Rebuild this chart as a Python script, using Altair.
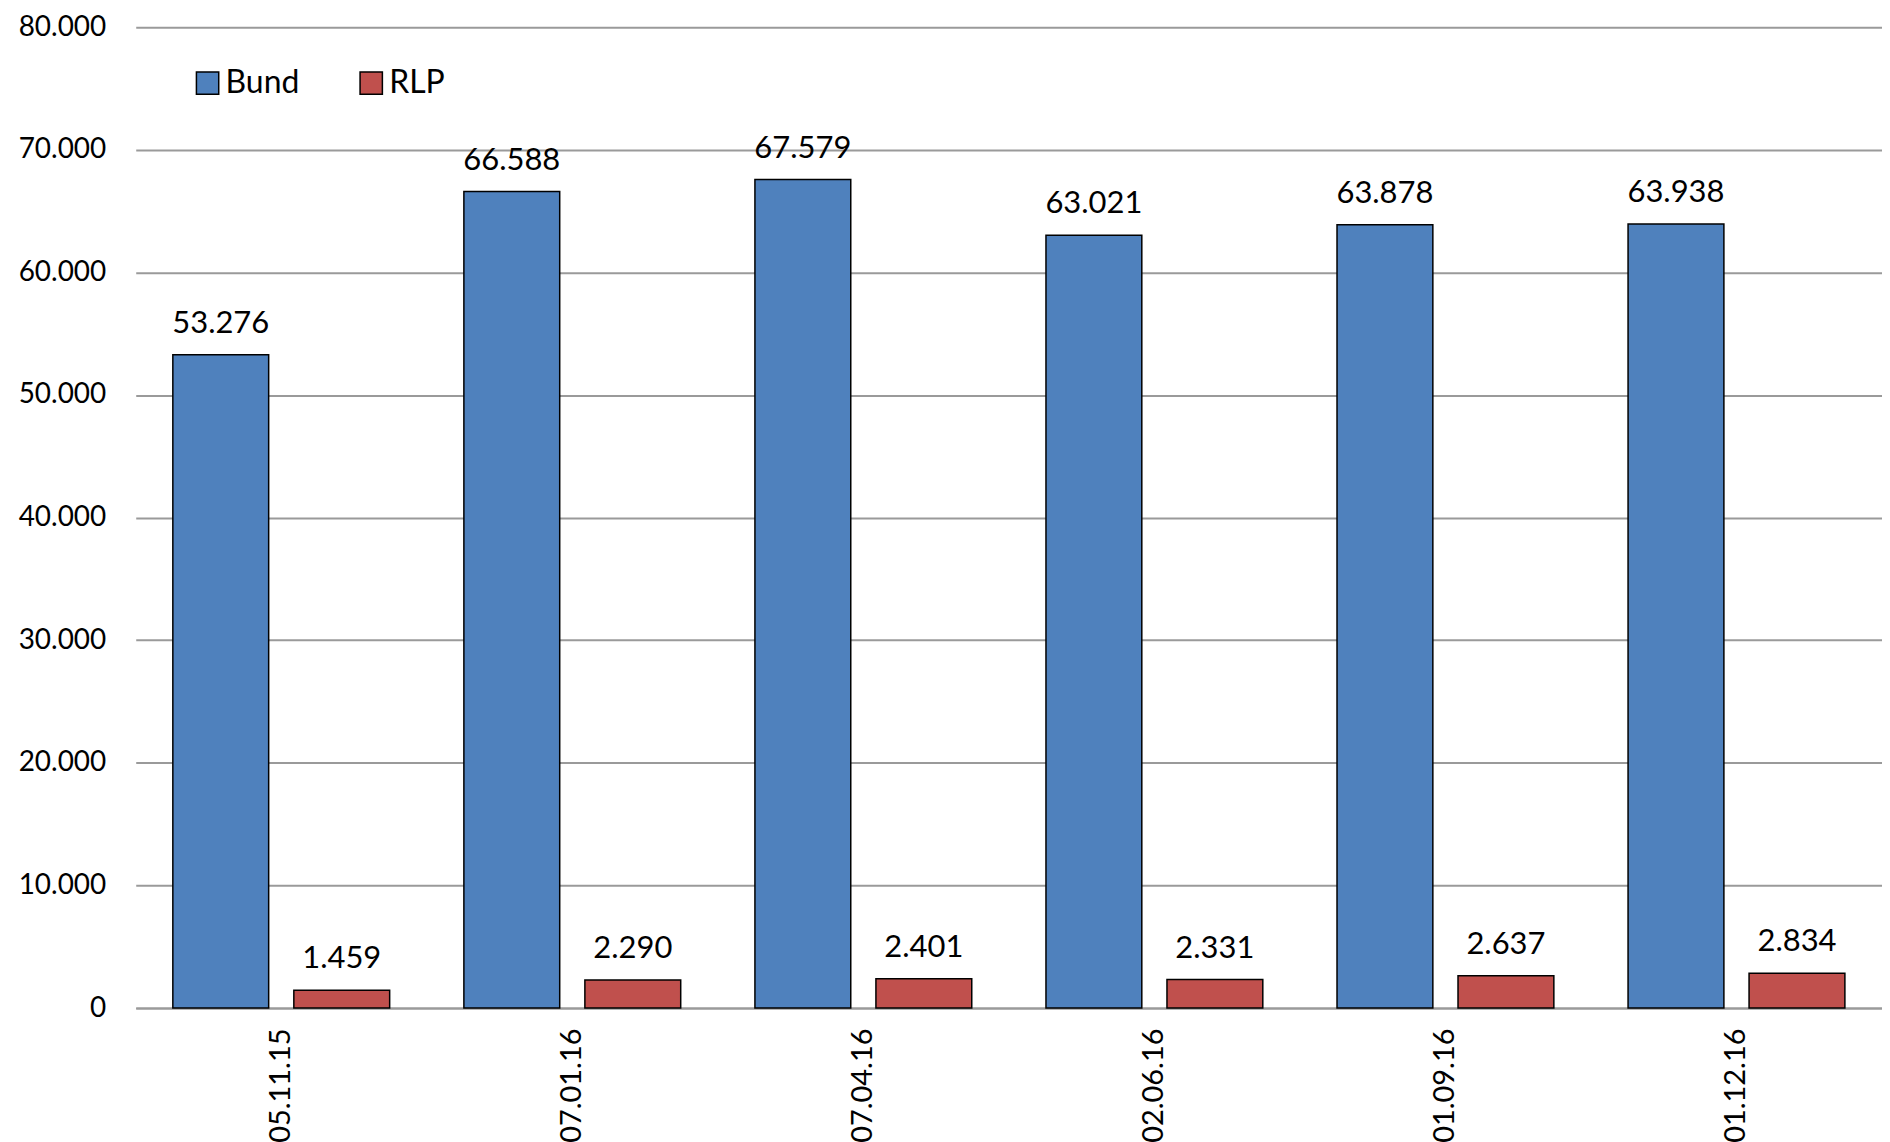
import altair as alt
import pandas as pd

dates = ["05.11.15", "07.01.16", "07.04.16", "02.06.16", "01.09.16", "01.12.16"]
bund = [53276, 66588, 67579, 63021, 63878, 63938]
rlp = [1459, 2290, 2401, 2331, 2637, 2834]
series = ["Bund", "RLP"]
colors = ["#4F81BD", "#C0504D"]

rows = []
for d, b, r in zip(dates, bund, rlp):
    rows.append({"Datum": d, "Reihe": "Bund", "Wert": b})
    rows.append({"Datum": d, "Reihe": "RLP", "Wert": r})
df = pd.DataFrame(rows)

FONT = "Lato"

x_enc = alt.X(
    "Datum:N",
    sort=dates,
    title=None,
    scale=alt.Scale(paddingInner=0.255, paddingOuter=0.1275),
    axis=alt.Axis(
        labelAngle=270,
        labelFontSize=29,
        labelFont=FONT,
        labelColor="black",
        labelPadding=20,
        ticks=False,
        domain=True,
        domainColor="#9a9a9a",
        domainWidth=2,
        grid=False,
    ),
)
xoff = alt.XOffset("Reihe:N", sort=series, scale=alt.Scale(paddingInner=0.208, paddingOuter=0))

bars = alt.Chart(df).mark_bar(stroke="black", strokeWidth=1.5).encode(
    x=x_enc,
    xOffset=xoff,
    y=alt.Y(
        "Wert:Q",
        title=None,
        scale=alt.Scale(domain=[0, 80000], nice=False),
        axis=alt.Axis(
            values=[0, 10000, 20000, 30000, 40000, 50000, 60000, 70000, 80000],
            labelExpr="replace(format(datum.value, ','), ',', '.')",
            labelFontSize=28,
            labelFont=FONT,
            labelColor="black",
            labelPadding=30,
            ticks=False,
            domain=False,
            grid=True,
            gridColor="#9a9a9a",
            gridWidth=2,
        ),
    ),
    color=alt.Color(
        "Reihe:N",
        sort=series,
        scale=alt.Scale(domain=series, range=colors),
        legend=alt.Legend(
            title=None,
            orient="none",
            legendX=56,
            legendY=40,
            direction="horizontal",
            symbolType="square",
            symbolSize=500,
            symbolStrokeColor="black",
            symbolStrokeWidth=1.5,
            symbolOpacity=1,
            labelFontSize=32,
            labelFont=FONT,
            labelColor="black",
            labelOffset=2,
            columnPadding=56,
        ),
    ),
)

labels = alt.Chart(df).transform_calculate(
    txt="replace(format(datum.Wert, ','), ',', '.')"
).mark_text(fontSize=31, font=FONT, color="black", baseline="middle", dy=-31).encode(
    x=alt.X("Datum:N", sort=dates),
    xOffset=xoff,
    y="Wert:Q",
    text="txt:N",
)

chart = (
    alt.layer(bars, labels)
    .properties(width=1750, height=983, padding={"left": 10, "top": 4, "right": 0, "bottom": 0})
    .configure_view(stroke=None)
)

chart.save("out.html", embed_options={"renderer": "svg", "actions": False})
